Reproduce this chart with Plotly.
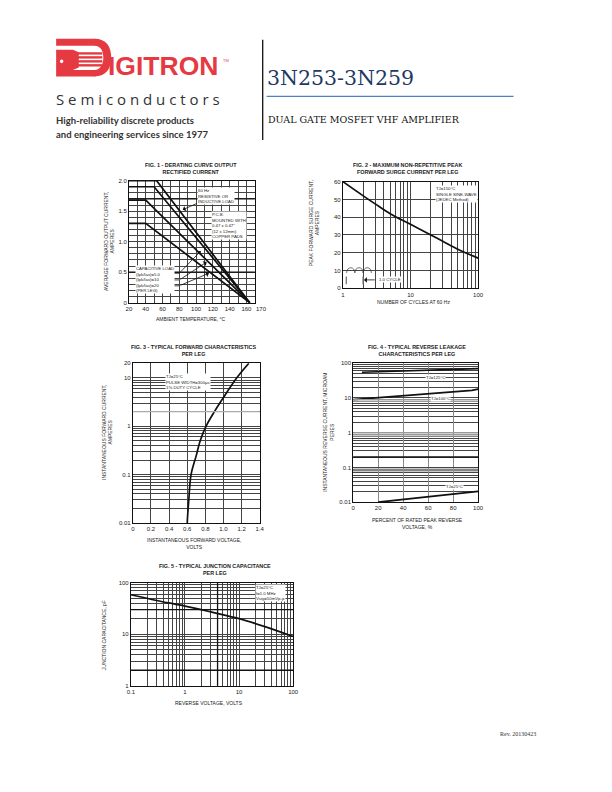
import plotly.graph_objects as go

W, H = 612, 792
def fx(x): return x / W
def fy(y): return 1 - y / H

# ---------------- DATA ----------------
# Fig 1 - derating curves (temperature degC, current A)
f1_temp_a = [20, 53, 164]; f1_cur_a = [2.0, 2.0, 0.0]
f1_temp_b = [20, 50, 164]; f1_cur_b = [1.9, 1.9, 0.0]
f1_temp_c = [20, 40, 164]; f1_cur_c = [1.68, 1.68, 0.0]
f1_temp_d = [20, 40, 164]; f1_cur_d = [1.3, 1.3, 0.0]
f1_xticks = [20, 40, 60, 80, 100, 120, 140, 160]
f1_last_tick = "170"
f1_yticks = [0, 0.5, 1.0, 1.5, 2.0]
f1_ytext = ["0", "0.5", "1.0", "1.5", "2.0"]
f1_emph = [0.5, 1.7]

# Fig 2 - surge current vs cycles
f2_cycles = [1, 2, 3, 5, 10, 20, 30, 50, 100]
f2_amps = [60, 52, 47.5, 42, 36, 30, 26.5, 22, 17]
f2_yticks = [0, 10, 20, 30, 40, 50, 60]
f2_xticks = [1, 10, 100]

# Fig 3 - forward characteristics
f3_volts = [0.60, 0.605, 0.617, 0.642, 0.70, 0.743, 0.808, 0.90, 1.003, 1.147, 1.28]
f3_amps = [0.01, 0.015, 0.03, 0.1, 0.25, 0.5, 1.0, 2.0, 4.0, 10.0, 20.0]
f3_xticks = [0, 0.2, 0.4, 0.6, 0.8, 1.0, 1.2, 1.4]
f3_xtext = ["0", "0.2", "0.4", "0.6", "0.8", "1.0", "1.2", "1.4"]
f3_yticks = [0.01, 0.1, 1, 10, 20]

# Fig 4 - reverse leakage
f4_pct_125 = [7, 50, 100]; f4_ua_125 = [55, 62, 70]
f4_pct_100 = [0, 50, 95, 100]; f4_ua_100 = [9, 12.3, 16.5, 18]
f4_pct_25 = [20, 60, 100]; f4_ua_25 = [0.0100, 0.0145, 0.0206]
f4_xticks = [0, 20, 40, 60, 80, 100]
f4_yticks = [0.01, 0.1, 1, 10, 100]

# Fig 5 - junction capacitance
f5_volts = [0.1, 0.3, 1, 3, 10, 30, 100]
f5_pf = [58, 45, 35, 27, 20, 14, 9]
f5_xticks = [0.1, 1, 10, 100]
f5_yticks = [1, 10, 100]


def log_minor(lo_exp, hi_exp, top):
    vals = []
    for e in range(lo_exp, hi_exp + 1):
        for m in range(2, 10):
            v = m * 10 ** e
            if v < top * 0.9999:
                vals.append(v)
    return vals


fig = go.Figure()
LINE = dict(color="#111", width=1.7)
fig.add_trace(go.Scatter(x=f1_temp_a, y=f1_cur_a, mode="lines", line=LINE, xaxis="x", yaxis="y"))
fig.add_trace(go.Scatter(x=f1_temp_b, y=f1_cur_b, mode="lines", line=LINE, xaxis="x", yaxis="y"))
fig.add_trace(go.Scatter(x=f1_temp_c, y=f1_cur_c, mode="lines", line=LINE, xaxis="x", yaxis="y"))
fig.add_trace(go.Scatter(x=f1_temp_d, y=f1_cur_d, mode="lines", line=LINE, xaxis="x", yaxis="y"))
fig.add_trace(go.Scatter(x=f2_cycles, y=f2_amps, mode="lines", line=dict(color="#111", width=1.7, shape="spline"), xaxis="x2", yaxis="y2"))
fig.add_trace(go.Scatter(x=f3_volts, y=f3_amps, mode="lines", line=dict(color="#111", width=1.7, shape="spline"), xaxis="x3", yaxis="y3"))
fig.add_trace(go.Scatter(x=f4_pct_125, y=f4_ua_125, mode="lines", line=LINE, xaxis="x4", yaxis="y4"))
fig.add_trace(go.Scatter(x=f4_pct_100, y=f4_ua_100, mode="lines", line=LINE, xaxis="x4", yaxis="y4"))
fig.add_trace(go.Scatter(x=f4_pct_25, y=f4_ua_25, mode="lines", line=LINE, xaxis="x4", yaxis="y4"))
fig.add_trace(go.Scatter(x=f5_volts, y=f5_pf, mode="lines", line=dict(color="#111", width=1.7, shape="spline"), xaxis="x5", yaxis="y5"))

TF = dict(family="Liberation Sans, Arial, sans-serif", size=6, color="#222")
GC = "#444"
GW = 0.6

def minor(vals, color=GC, width=GW):
    return dict(tickmode="array", tickvals=vals, showgrid=True, gridcolor=color, gridwidth=width, ticks="")

def ax(domain, anchor, **kw):
    d = dict(domain=domain, anchor=anchor, showline=True, linecolor="#111", linewidth=1,
             mirror=True, ticks="", showgrid=True, gridcolor=GC, gridwidth=GW,
             zeroline=False, tickfont=TF, fixedrange=True, tickangle=0)
    d.update(kw)
    return d

# domains (page pixels)
D1x = [fx(127), fx(255)]; D1y = [fy(302), fy(179)]
D2x = [fx(344.5), fx(482)]; D2y = [fy(287.5), fy(180)]
D3x = [fx(131), fx(260)]; D3y = [fy(524), fy(363)]
D4x = [fx(355), fx(482)]; D4y = [fy(503), fy(363)]
D5x = [fx(129), fx(294)]; D5y = [fy(688), fy(584)]

fig.update_layout(
    xaxis=ax(D1x, "y", range=[20, 170], tickmode="array", tickvals=f1_xticks,
             minor=minor(list(range(30, 171, 10)))),
    yaxis=ax(D1y, "x", range=[0, 2.0], tickmode="array", tickvals=f1_yticks, ticktext=f1_ytext,
             minor=minor([i / 10 for i in range(1, 20) if i % 5])),
    xaxis2=ax(D2x, "y2", type="log", range=[0, 2], tickmode="array", tickvals=f2_xticks,
              minor=minor(log_minor(0, 1, 100))),
    yaxis2=ax(D2y, "x2", range=[0, 60], tickmode="array", tickvals=f2_yticks),
    xaxis3=ax(D3x, "y3", range=[0, 1.4], tickmode="array", tickvals=f3_xticks, ticktext=f3_xtext),
    yaxis3=ax(D3y, "x3", type="log", range=[-2, 1.30103], tickmode="array", tickvals=f3_yticks,
              minor=minor(log_minor(-2, 1, 20))),
    xaxis4=ax(D4x, "y4", range=[0, 100], tickmode="array", tickvals=f4_xticks, gridcolor="#888", gridwidth=1.2),
    yaxis4=ax(D4y, "x4", type="log", range=[-2, 2], tickmode="array", tickvals=f4_yticks,
              minor=minor(log_minor(-2, 1, 100))),
    xaxis5=ax(D5x, "y5", type="log", range=[-1, 2], tickmode="array", tickvals=f5_xticks,
              minor=minor(log_minor(-1, 1, 100))),
    yaxis5=ax(D5y, "x5", type="log", range=[0, 2], tickmode="array", tickvals=f5_yticks,
              minor=minor(log_minor(0, 1, 100))),
    width=W, height=H, margin=dict(l=0, r=0, t=0, b=0),
    paper_bgcolor="white", plot_bgcolor="white", showlegend=False,
)

shapes = []
# emphasis grid lines
for v in f1_emph:
    shapes.append(dict(type="line", xref="x domain", yref="y", x0=0, x1=1, y0=v, y1=v, line=dict(color="#111", width=1.3)))
shapes.append(dict(type="line", xref="x3 domain", yref="y3", x0=0, x1=1, y0=2, y1=2, line=dict(color="#aaa", width=1.2)))
shapes.append(dict(type="line", xref="x4 domain", yref="y4", x0=0, x1=1, y0=0.2, y1=0.2, line=dict(color="#111", width=1.3)))
for v in [0.08, 0.09, 1, 0.9, 0.8, 8, 9]:
    shapes.append(dict(type="line", xref="x4 domain", yref="y4", x0=0, x1=1, y0=v, y1=v, line=dict(color="#999", width=1.2)))
for v in [2, 30]:
    shapes.append(dict(type="line", xref="x5 domain", yref="y5", x0=0, x1=1, y0=v, y1=v, line=dict(color="#111", width=1.3)))
shapes.append(dict(type="line", xref="x5", yref="y5 domain", x0=4, x1=4, y0=0, y1=1, line=dict(color="#111", width=1.3)))

# header lines
shapes.append(dict(type="line", xref="paper", yref="paper", x0=fx(263), x1=fx(263), y0=fy(37), y1=fy(138), line=dict(color="#111", width=1.3)))
shapes.append(dict(type="line", xref="paper", yref="paper", x0=fx(267), x1=fx(518), y0=fy(94), y1=fy(94), line=dict(color="#4f81bd", width=1.2)))

# logo "D"
RED = "#e63a43"
def P(pts):
    return "M " + " L ".join("%f,%f" % (fx(x), fy(y)) for x, y in pts) + " Z"
def rect(x0, y0, x1, y1, col=RED):
    shapes.append(dict(type="rect", xref="paper", yref="paper", x0=fx(x0), x1=fx(x1), y0=fy(y1), y1=fy(y0), fillcolor=col, line=dict(width=0)))
rect(53, 36, 93, 43)
rect(53, 67.5, 93, 74)
bowl = "M %f,%f C %f,%f %f,%f %f,%f C %f,%f %f,%f %f,%f L %f,%f C %f,%f %f,%f %f,%f C %f,%f %f,%f %f,%f Z" % (
    fx(92), fy(36), fx(104), fy(36), fx(109), fy(44), fx(109), fy(55),
    fx(109), fy(66), fx(104), fy(74), fx(92), fy(74),
    fx(92), fy(67.5), fx(98), fy(67.5), fx(101), fy(62), fx(101), fy(55),
    fx(101), fy(48), fx(98), fy(43), fx(92), fy(43))
shapes.append(dict(type="path", xref="paper", yref="paper", path=bowl, fillcolor=RED, line=dict(width=0)))
shapes.append(dict(type="path", xref="paper", yref="paper", path=P([(53, 47), (70, 47), (76, 49.5), (76, 65), (70, 67.5), (53, 67.5)]), fillcolor=RED, line=dict(width=0)))
for yy in [49.6, 53.6, 57.6, 61.6]:
    rect(75, yy, 100, yy + 2.4)
shapes.append(dict(type="circle", xref="paper", yref="paper", x0=fx(56.8), x1=fx(60.4), y0=fy(60.6), y1=fy(57), fillcolor="white", line=dict(width=0)))

# fig2 cycle icon
hump = ""
for i in range(3):
    a = 348.3 + i * 8.4
    hump += "M %f,%f C %f,%f %f,%f %f,%f " % (fx(a), fy(272), fx(a), fy(265), fx(a + 8.4), fy(265), fx(a + 8.4), fy(272))
shapes.append(dict(type="path", xref="paper", yref="paper", path=hump, line=dict(color="#333", width=0.7)))
for xx in [348, 365]:
    shapes.append(dict(type="line", xref="paper", yref="paper", x0=fx(xx), x1=fx(xx), y0=fy(275.5), y1=fy(283.5), line=dict(color="#777", width=1.3)))

# fig1 leader segments
for yy, col, wd in [(272.3, "#111", 0.8), (279, "#888", 1.6), (285, "#111", 0.8)]:
    shapes.append(dict(type="line", xref="paper", yref="paper", x0=fx(160), x1=fx(178.3), y0=fy(yy), y1=fy(yy), line=dict(color=col, width=wd)))

fig.update_layout(shapes=shapes)

ann = []
SANS = "Liberation Sans, Arial, sans-serif"
def txt(x, y, s, size=5, bold=False, xa="center", ya="middle", angle=0, bg=None, family=SANS, color="#222"):
    d = dict(xref="paper", yref="paper", x=fx(x), y=fy(y), text=("<b>%s</b>" % s) if bold else s,
             showarrow=False, xanchor=xa, yanchor=ya, textangle=angle,
             font=dict(family=family, size=size, color=color), align="left" if xa == "left" else "center")
    if bg:
        d["bgcolor"] = bg
        d["borderpad"] = 0
    ann.append(d)

def arrow(x0, y0, x1, y1, head=1, color="#111", width=0.8):
    ann.append(dict(xref="paper", yref="paper", axref="pixel", ayref="pixel", x=fx(x1), y=fy(y1),
                    ax=x0 - x1, ay=y0 - y1, text=" ", showarrow=True, arrowhead=head,
                    arrowsize=1.2, arrowwidth=width, arrowcolor=color, font=dict(size=1)))

# last fig1 tick label (sits just right of 160)
ann.append(dict(xref="x", yref="paper", x=170, y=fy(302), text=f1_last_tick, showarrow=False,
                xanchor="left", yanchor="top", xshift=-1, yshift=-1, font=TF))

# figure titles
TS = 5.4
txt(190, 166.5, "FIG. 1 - DERATING CURVE OUTPUT<br>RECTIFIED CURRENT", size=TS, bold=True)
txt(410, 166.5, "FIG. 2 - MAXIMUM NON-REPETITIVE PEAK<br>FORWARD SURGE CURRENT PER LEG", size=TS, bold=True)
txt(193, 350, "FIG. 3 - TYPICAL FORWARD CHARACTERISTICS<br>PER LEG", size=TS, bold=True)
txt(420, 350, "FIG. 4 - TYPICAL REVERSE LEAKAGE<br>CHARACTERISTICS PER LEG", size=TS, bold=True)
txt(215, 571, "FIG. 5 - TYPICAL JUNCTION CAPACITANCE<br>PER LEG", size=TS, bold=True)

# axis titles
txt(106.5, 240, "AVERAGE FORWARD OUTPUT CURRENT,<br>AMPERES", size=5, angle=-90)
txt(190, 318, "AMBIENT TEMPERATURE, °C", size=5)
txt(315, 222, "PEAK FORWARD SURGE CURRENT,<br>AMPERES", size=5, angle=-90)
txt(416.7, 301, "NUMBER OF CYCLES AT 60 Hz", size=5)
txt(105, 433, "INSTANTANEOUS FORWARD CURRENT,<br>AMPERES", size=5, angle=-90)
txt(193.3, 545, "INSTANTANEOUS FORWARD VOLTAGE,<br>VOLTS", size=5)
txt(330.5, 433, "INSTANTANEOUS REVERSE CURRENT, MICROAM<br>PERES", size=5, angle=-90)
txt(420, 524.7, "PERCENT OF RATED PEAK REVERSE<br>VOLTAGE, %", size=5)
txt(102, 636.7, "JUNCTION CAPACITANCE, pF", size=5, angle=-90)
txt(208.3, 705.7, "REVERSE VOLTAGE, VOLTS", size=5)

# fig1 notes
txt(196.5, 194, "60 Hz<br>RESISTIVE OR<br>INDUCTIVE LOAD", size=4.3, xa="left", bg="white")
arrow(197, 201.5, 181.7, 208.3)
txt(210.5, 224.5, "P.C.B.<br>MOUNTED WITH<br>0.47 x 0.47\"<br>(12 x 12mm)<br>COPPER PADS", size=4.3, xa="left", bg="white")
txt(133.5, 278.3, "CAPACITIVE LOAD<br>(Ipk/Iav)=5.0<br>(Ipk/Iav)=10<br>(Ipk/Iav)=20<br>(PER LEG)", size=4.3, xa="left", bg="white")
arrow(178.3, 272.3, 200, 250)
arrow(178.3, 279.3, 206, 261)
arrow(178.3, 285, 208.3, 272.3)

# fig2 notes
txt(438, 192.5, "TJ=150°C<br>SINGLE SINE-WAVE<br>(JEDEC Method)", size=4.3, xa="left", bg="white")
arrow(378.3, 279, 366, 279)
txt(380, 279, "1.0 CYCLE", size=4.3, xa="left", bg="white")

# fig3 notes
txt(164, 381.5, "TJ=25°C<br>PULSE WIDTH=300μs<br>1% DUTY CYCLE", size=4.3, xa="left", bg="white")

# fig4 notes
txt(428, 377.7, "TJ=125°C", size=4.3, xa="left", bg="white")
txt(433, 398.3, "TJ=100°C", size=4.3, xa="left", bg="white")
txt(448, 486.7, "TJ=25°C", size=4.3, xa="left", bg="white")

# fig5 notes
txt(255, 594.3, "TJ=25°C<br>f=1.0 MHz<br>Vsig=50mVp-p", size=4.3, xa="left", bg="white")

# header text
txt(103.5, 63.5, "IGITRON", size=26.5, bold=True, xa="left", color=RED, family="Liberation Sans, Arial, sans-serif")
txt(221, 57.5, "TM", size=4, xa="left", color=RED)
txt(51, 97, "S e m i c o n d u c t o r s", size=15, xa="left", color="#333", family="Open Sans, Liberation Sans, sans-serif")
txt(51, 118.5, "High-reliability discrete products", size=9.5, bold=True, xa="left", color="#333", family="Lato, Open Sans, sans-serif")
txt(51, 132.5, "and engineering services since 1977", size=9.5, bold=True, xa="left", color="#333", family="Lato, Open Sans, sans-serif")
txt(265, 76, "3N253-3N259", size=20.5, xa="left", color="#1f3864", family="DejaVu Serif, serif")
txt(266, 117.3, "DUAL GATE MOSFET VHF AMPLIFIER", size=9.5, xa="left", color="#111", family="DejaVu Serif, serif")
txt(502, 737, "Rev. 20130423", size=6, xa="left", color="#333", family="Liberation Serif, serif")

fig.update_layout(annotations=ann)
fig.write_html("out.html", config={"displayModeBar": False},
               post_script="document.body.style.margin='0px';document.body.style.padding='0px';")
